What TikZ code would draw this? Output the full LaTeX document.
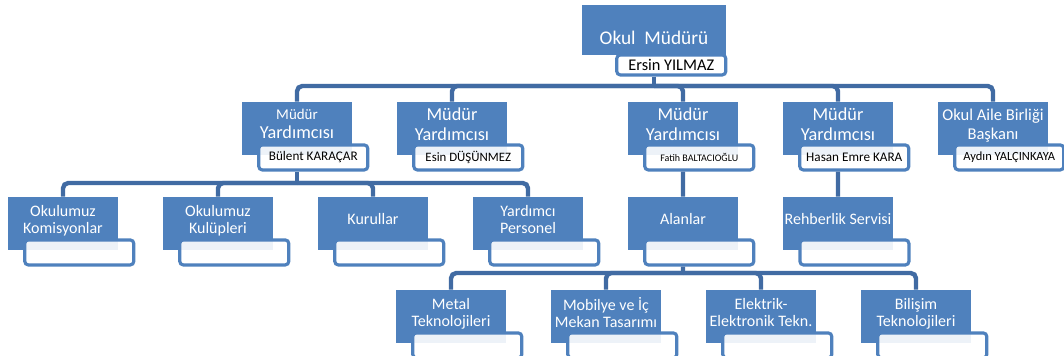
\documentclass[tikz,border=0pt]{standalone}
\usepackage{fontspec}
\setmainfont{Carlito}
\usetikzlibrary{positioning}
\definecolor{boxblue}{HTML}{4F81BD}
\definecolor{linkblue}{HTML}{416BA3}
\tikzstyle{chief} = [rectangle, minimum width=2.88cm, minimum height=1cm, inner sep=1pt, align=center, fill=boxblue, text=white, font=\fontsize{11pt}{13pt}\selectfont, text height=17pt, text depth=0pt]
\tikzstyle{deputy} = [rectangle, minimum width=2.2cm, minimum height=1.06cm, inner sep=1pt, align=center, fill=boxblue, text=white, font=\fontsize{10.4pt}{11pt}\selectfont, text depth=5pt]
\tikzstyle{unit} = [deputy, font=\fontsize{9.1pt}{9.8pt}\selectfont]
\tikzstyle{namebox} = [rectangle, rounded corners=2pt, minimum width=2.18cm, minimum height=0.5cm, inner sep=0pt, draw=boxblue, line width=1.8pt, fill=white, fill opacity=0.9, text opacity=1, text=black, font=\fontsize{7.5pt}{9pt}\selectfont]
\tikzstyle{link} = [line width=2.5pt, draw=linkblue, rounded corners=3pt]

\begin{document}
\begin{tikzpicture}[node distance=3.1cm]
	\clip (0,0) rectangle (21.28,-7.1);
	% top
	\node (mudur) [chief] at (13.08,-0.6) {Okul~~Müdürü};
	\node (mudur-ad) [namebox, minimum height=0.4cm, below left=-0.04cm and -0.02cm of mudur.south east, font=\fontsize{9.3pt}{10pt}\selectfont] {Ersin YILMAZ};
	
	% deputies
	\node (myb) [deputy] at (5.94,-2.57) {{\fontsize{8.5pt}{11pt}\selectfont Müdür}\\Yardımcısı};
	\node (mye) [deputy, right of=myb] {Müdür\\Yardımcısı};
	\node (myf) [deputy] at (13.66,-2.57) {Müdür\\Yardımcısı};
	\node (myh) [deputy, right of=myf] {Müdür\\Yardımcısı};
	\node (oab) [deputy, right of=myh, font=\fontsize{9.4pt}{10.6pt}\selectfont] {Okul Aile Birliği\\Başkanı};
	
	\node (myb-ad) [namebox, below left=-0.24cm and -0.34cm of myb.south east] {Bülent KARAÇAR};
	\node (mye-ad) [namebox, below left=-0.24cm and -0.34cm of mye.south east, font=\fontsize{7.3pt}{9pt}\selectfont] {Esin DÜŞÜNMEZ};
	\node (myf-ad) [namebox, below left=-0.24cm and -0.34cm of myf.south east, font=\fontsize{5.7pt}{7pt}\selectfont] {Fatih BALTACIOĞLU};
	\node (myh-ad) [namebox, below left=-0.24cm and -0.34cm of myh.south east] {Hasan Emre KARA};
	\node (oab-ad) [namebox, below left=-0.24cm and -0.34cm of oab.south east, font=\fontsize{7.1pt}{9pt}\selectfont] {Aydın YALÇINKAYA};
	
	% units
	\node (kom) [unit] at (1.26,-4.47) {Okulumuz\\Komisyonlar};
	\node (kul) [unit, right of=kom] {Okulumuz\\Kulüpleri};
	\node (kur) [unit, right of=kul] {Kurullar};
	\node (yp) [unit, right of=kur] {Yardımcı\\Personel};
	\node (alan) [unit, right of=yp] {Alanlar};
	\node (reh) [unit, right of=alan] {Rehberlik Servisi};
	
	\node (kom-ad) [namebox, below left=-0.24cm and -0.34cm of kom.south east] {};
	\node (kul-ad) [namebox, below left=-0.24cm and -0.34cm of kul.south east] {};
	\node (kur-ad) [namebox, below left=-0.24cm and -0.34cm of kur.south east] {};
	\node (yp-ad) [namebox, below left=-0.24cm and -0.34cm of yp.south east] {};
	\node (alan-ad) [namebox, below left=-0.24cm and -0.34cm of alan.south east] {};
	\node (reh-ad) [namebox, below left=-0.24cm and -0.34cm of reh.south east] {};
	
	% fields
	\node (metal) [unit] at (9.02,-6.33) {Metal\\Teknolojileri};
	\node (mob) [unit, right of=metal] {Mobilye ve İç\\Mekan Tasarımı};
	\node (elek) [unit, right of=mob] {Elektrik-\\Elektronik Tekn.};
	\node (bil) [unit, right of=elek] {Bilişim\\Teknolojileri};
	
	\node (metal-ad) [namebox, below left=-0.24cm and -0.34cm of metal.south east] {};
	\node (mob-ad) [namebox, below left=-0.24cm and -0.34cm of mob.south east] {};
	\node (elek-ad) [namebox, below left=-0.24cm and -0.34cm of elek.south east] {};
	\node (bil-ad) [namebox, below left=-0.24cm and -0.34cm of bil.south east] {};
	
	% links
	\coordinate (bus1) at (13.08,-1.72);
	\coordinate (bus2) at (5.94,-3.66);
	\coordinate (bus3) at (13.66,-5.46);
	\draw [link] (mudur.center |- mudur-ad.south) -- (bus1);
	\draw [link] (bus1) -| (myb.north);
	\draw [link] (bus1) -| (mye.north);
	\draw [link] (bus1) -| (myf.north);
	\draw [link] (bus1) -| (myh.north);
	\draw [link] (bus1) -| (oab.north);
	\draw [link] (myb.center |- myb-ad.south) -- (bus2);
	\draw [link] (bus2) -| (kom.north);
	\draw [link] (bus2) -| (kul.north);
	\draw [link] (bus2) -| (kur.north);
	\draw [link] (bus2) -| (yp.north);
	\draw [link] (myf.center |- myf-ad.south) -- (alan.north);
	\draw [link] (myh.center |- myh-ad.south) -- (reh.north);
	\draw [link] (alan.center |- alan-ad.south) -- (bus3);
	\draw [link] (bus3) -| (metal.north);
	\draw [link] (bus3) -| (mob.north);
	\draw [link] (bus3) -| (elek.north);
	\draw [link] (bus3) -| (bil.north);
\end{tikzpicture}
\end{document}
